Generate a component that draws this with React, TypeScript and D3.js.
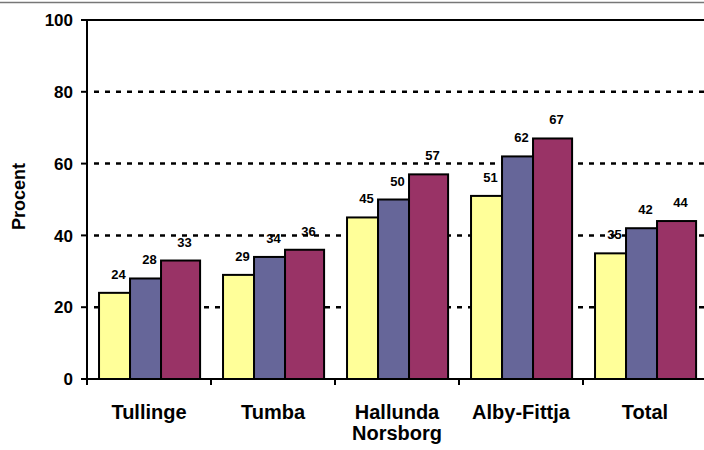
import React from "react";
import * as d3 from "d3";

const categories = [["Tullinge"], ["Tumba"], ["Hallunda", "Norsborg"], ["Alby-Fittja"], ["Total"]];
const series1 = [24, 29, 45, 51, 35];
const series2 = [28, 34, 50, 62, 42];
const series3 = [33, 36, 57, 67, 44];
const yTicks = [0, 20, 40, 60, 80, 100];

const seriesData = [series1, series2, series3];
const colors = ["#FFFF99", "#666699", "#993366"];
// relative bar widths within a band (fractions of band width)
const barFracs = [0.25, 0.25, 0.315];
const groupStartFrac = 0.097;

const W = 704;
const H = 450;
const left = 87;
const right = 707;
const top = 20;
const bottom = 379;
const font = "Arial, 'Liberation Sans', sans-serif";

export default function App() {
  const x = d3
    .scaleBand<number>()
    .domain(d3.range(categories.length))
    .range([left, right])
    .paddingInner(0)
    .paddingOuter(0);
  const y = d3.scaleLinear().domain([0, 100]).range([bottom, top]);
  const bw = x.bandwidth();

  const bars: React.ReactNode[] = [];
  const labels: React.ReactNode[] = [];
  categories.forEach((_, ci) => {
    let cx = (x(ci) as number) + groupStartFrac * bw;
    seriesData.forEach((s, si) => {
      const w = barFracs[si] * bw;
      const v = s[ci];
      bars.push(
        <rect
          key={`b${ci}-${si}`}
          x={cx}
          y={y(v)}
          width={w}
          height={y(0) - y(v)}
          fill={colors[si]}
          stroke="#000"
          strokeWidth={2}
        />
      );
      labels.push(
        <text
          key={`l${ci}-${si}`}
          x={cx + w / 2 + 4}
          y={y(v) - 14}
          textAnchor="middle"
          fontFamily={font}
          fontWeight="bold"
          fontSize={13}
          fill="#000"
        >
          {v}
        </text>
      );
      cx += w;
    });
  });

  return (
    <svg width={W} height={H} style={{ position: "absolute", left: 0, top: 0 }}>
      <rect x={0} y={0} width={W} height={H} fill="#fff" />
      <line x1={0} x2={W} y1={2.5} y2={2.5} stroke="#777" strokeWidth={1.5} />
      {yTicks
        .filter((t) => t > 0 && t < 100)
        .map((t) => (
          <line
            key={`g${t}`}
            x1={left + 7}
            x2={right}
            y1={y(t)}
            y2={y(t)}
            stroke="#000"
            strokeWidth={2.5}
            strokeDasharray="5,6"
          />
        ))}
      <line x1={left} x2={right} y1={y(100)} y2={y(100)} stroke="#000" strokeWidth={2} />
      {bars}
      {/* axes */}
      <line x1={left} x2={left} y1={top} y2={bottom} stroke="#000" strokeWidth={2} />
      <line x1={left - 6} x2={right} y1={bottom} y2={bottom} stroke="#000" strokeWidth={2} />
      {yTicks.map((t) => (
        <g key={`yt${t}`}>
          <line x1={left - 6} x2={left} y1={y(t)} y2={y(t)} stroke="#000" strokeWidth={2} />
          <text
            x={left - 14}
            y={y(t)}
            dy="0.36em"
            textAnchor="end"
            fontFamily={font}
            fontWeight="bold"
            fontSize={17}
          >
            {t}
          </text>
        </g>
      ))}
      {d3.range(categories.length + 1).map((i) => {
        const xx = i < categories.length ? (x(i) as number) : right;
        return <line key={`xt${i}`} x1={xx} x2={xx} y1={bottom} y2={bottom + 6} stroke="#000" strokeWidth={2} />;
      })}
      {categories.map((c, i) => (
        <text
          key={`c${i}`}
          x={(x(i) as number) + bw / 2}
          y={419}
          textAnchor="middle"
          fontFamily={font}
          fontWeight="bold"
          fontSize={20}
        >
          {c.map((line, li) => (
            <tspan key={li} x={(x(i) as number) + bw / 2} dy={li === 0 ? 0 : 21}>
              {line}
            </tspan>
          ))}
        </text>
      ))}
      <text
        transform={`translate(25,${(top + bottom) / 2 - 3}) rotate(-90)`}
        textAnchor="middle"
        fontFamily={font}
        fontWeight="bold"
        fontSize={18}
      >
        Procent
      </text>
      {labels}
    </svg>
  );
}
